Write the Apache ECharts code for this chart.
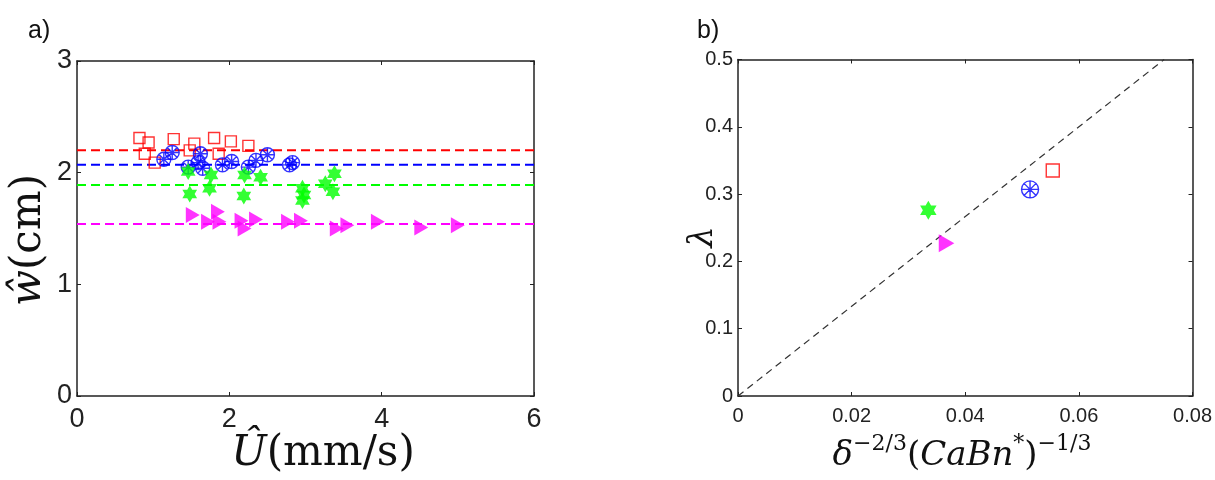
<!DOCTYPE html>
<html>
<head>
<meta charset="utf-8">
<script src="https://cdn.jsdelivr.net/npm/echarts@6/dist/echarts.min.js"></script>
<style>
  html, body { margin: 0; padding: 0; background: #fff; }
  #chart { width: 1215px; height: 480px; }
</style>
</head>
<body>
<div id="chart"></div>
<script>
// panel a): measured widths vs speed, four fluids
const redU = [0.82, 0.94, 0.89, 1.02, 1.27, 1.48, 1.54, 1.80, 1.86, 2.02, 2.25]
const redW = [2.31, 2.27, 2.17, 2.09, 2.30, 2.20, 2.26, 2.31, 2.17, 2.28, 2.24]
const blueU = [1.14, 1.25, 1.46, 1.62, 1.59, 1.65, 1.91, 2.03, 2.25, 2.35, 2.50, 2.79, 2.83]
const blueW = [2.12, 2.18, 2.05, 2.17, 2.09, 2.04, 2.07, 2.10, 2.05, 2.11, 2.16, 2.07, 2.09]
const greenU = [1.46, 1.48, 1.76, 1.74, 2.20, 2.19, 2.41, 2.96, 2.98, 2.96, 3.26, 3.38, 3.36]
const greenW = [2.01, 1.81, 1.98, 1.86, 1.98, 1.79, 1.96, 1.86, 1.80, 1.75, 1.90, 1.99, 1.83]
const magU = [1.52, 1.72, 1.85, 1.87, 2.16, 2.20, 2.35, 2.77, 2.94, 3.41, 3.55, 3.95, 4.52, 5.00]
const magW = [1.62, 1.56, 1.65, 1.56, 1.57, 1.50, 1.58, 1.56, 1.57, 1.50, 1.53, 1.56, 1.51, 1.53]
// mean widths (dashed lines), order red, blue, green, magenta
const fitW = [2.2, 2.07, 1.89, 1.54]
const uRange = [0, 6]

// panel b)
const scaleX = [0.0554, 0.0514, 0.0335, 0.0367]
const lambda = [0.335, 0.307, 0.276, 0.227]
const lineX = [0, 0.075]
const lineY = [0, 0.5]

const ticksA_x = [0, 6, 2]
const ticksA_y = [0, 3, 1]
const ticksB_x = [0, 0.08, 0.02]
const ticksB_y = [0, 0.5, 0.1]

const colors = ['#ff0000', '#0000ff', '#00ff00', '#ff00ff']
const symSquare = 'path://M0,0 L10,0 L10,10 L0,10 Z'
const symCircStar = 'path://M10,0 A10,10 0 1 1 10,20 A10,10 0 1 1 10,0 Z M10,0 L10,20 M0,10 L20,10 M2.93,2.93 L17.07,17.07 M2.93,17.07 L17.07,2.93'
const symHex = 'path://M8.66,0 L11.55,5 L17.32,5 L14.43,10 L17.32,15 L11.55,15 L8.66,20 L5.77,15 L0,15 L2.89,10 L0,5 L5.77,5 Z'
const symTri = 'path://M0,0 L13,7.5 L0,15 Z'

const zip = (a, b) => a.map((v, i) => [v, b[i]])

const lineColor = '#222'
const sans = 'Liberation Sans'
const serif = 'DejaVu Serif'

function axis(grid, pos, r, labels, size, fmt) {
  return {
    type: 'value', gridIndex: grid, position: pos,
    min: r[0], max: r[1], interval: r[2],
    axisLine: { show: true, onZero: false, lineStyle: { color: lineColor, width: 1.5 } },
    axisTick: { show: true, inside: true, length: 4, lineStyle: { color: lineColor, width: 1 } },
    axisLabel: {
      show: labels, fontFamily: sans, fontSize: size, color: '#222',
      margin: (pos === 'bottom') ? 10 : 5,
      formatter: fmt
    },
    splitLine: { show: false }
  }
}
const fmt1 = v => v === 0 ? '0' : v.toFixed(1)
const fmt2 = v => v === 0 ? '0' : v.toFixed(2)

function scatter(xi, data, sym, size, color, hollow) {
  return {
    type: 'scatter', xAxisIndex: xi, yAxisIndex: xi, data,
    symbol: sym, symbolSize: size, symbolKeepAspect: true,
    itemStyle: hollow
      ? { color: 'rgba(0,0,0,0)', borderColor: color, borderWidth: 1.4 }
      : { color, borderWidth: 0 },
    z: 3
  }
}

const dashSeries = fitW.map((w, i) => ({
  type: 'line', xAxisIndex: 0, yAxisIndex: 0,
  data: [[uRange[0], w], [uRange[1], w]],
  showSymbol: false, silent: true,
  lineStyle: { color: colors[i], width: 2, type: [9, 5] },
  z: 2
}))

const chart = echarts.init(document.getElementById('chart'), null, { renderer: 'canvas' })
chart.setOption({
  animation: false,
  backgroundColor: '#fff',
  grid: [
    { left: 77, right: 681, top: 61, bottom: 84 },
    { left: 738, right: 22, top: 59.5, bottom: 84 }
  ],
  xAxis: [
    axis(0, 'bottom', ticksA_x, true, 27),
    axis(0, 'top', ticksA_x, false, 27),
    axis(1, 'bottom', ticksB_x, true, 20, fmt2),
    axis(1, 'top', ticksB_x, false, 20)
  ],
  yAxis: [
    axis(0, 'left', ticksA_y, true, 27),
    axis(0, 'right', ticksA_y, false, 27),
    axis(1, 'left', ticksB_y, true, 20, fmt1),
    axis(1, 'right', ticksB_y, false, 20)
  ],
  series: [
    ...dashSeries,
    scatter(0, zip(redU, redW), symSquare, 11, colors[0], true),
    scatter(0, zip(blueU, blueW), symCircStar, 14, colors[1], true),
    scatter(0, zip(greenU, greenW), symHex, 17, colors[2], false),
    scatter(0, zip(magU, magW), symTri, 16, colors[3], false),
    {
      type: 'line', xAxisIndex: 2, yAxisIndex: 2,
      data: zip(lineX, lineY), showSymbol: false, silent: true,
      lineStyle: { color: '#333', width: 1.2, type: [7, 5] }, z: 2
    },
    scatter(2, [[scaleX[0], lambda[0]]], symSquare, 13, colors[0], true),
    scatter(2, [[scaleX[1], lambda[1]]], symCircStar, 17, colors[1], true),
    scatter(2, [[scaleX[2], lambda[2]]], symHex, 19, colors[2], false),
    scatter(2, [[scaleX[3], lambda[3]]], symTri, 18, colors[3], false)
  ],
  graphic: [
    { type: 'text', left: 28, top: 19, style: { text: 'a)', font: '25px ' + sans, fill: '#111' } },
    { type: 'text', left: 697, top: 19, style: { text: 'b)', font: '25px ' + sans, fill: '#111' } },
    {
      type: 'text', x: 29, y: 240, rotation: Math.PI / 2,
      style: {
        text: '{i|ŵ}(cm)', font: '42px ' + serif, fill: '#111', align: 'center', verticalAlign: 'middle',
        rich: { i: { fontStyle: 'italic', fontSize: 42, fontFamily: serif } }
      }
    },
    {
      type: 'text', x: 323, y: 454,
      style: {
        text: '{i|Û}(mm/s)', font: '42px ' + serif, fill: '#111', align: 'center', verticalAlign: 'middle',
        rich: { i: { fontStyle: 'italic', fontSize: 42, fontFamily: serif } }
      }
    },
    {
      type: 'text', x: 703, y: 237, rotation: Math.PI / 2,
      style: { text: 'λ', font: 'italic 34px ' + serif, fill: '#111', align: 'center', verticalAlign: 'middle' }
    },
    {
      type: 'text', x: 962, y: 456,
      style: {
        text: '{i|δ}{s|−2/3}{r|(}{i|CaBn}{s|*}{r|)}{s|−1/3}',
        fill: '#111', align: 'center', verticalAlign: 'middle',
        rich: {
          i: { fontStyle: 'italic', fontSize: 34, fontFamily: serif, lineHeight: 46 },
          r: { fontSize: 34, fontFamily: serif, lineHeight: 46 },
          s: { fontSize: 22, fontFamily: serif, verticalAlign: 'top', lineHeight: 22 }
        }
      }
    }
  ]
})
</script>
</body>
</html>
